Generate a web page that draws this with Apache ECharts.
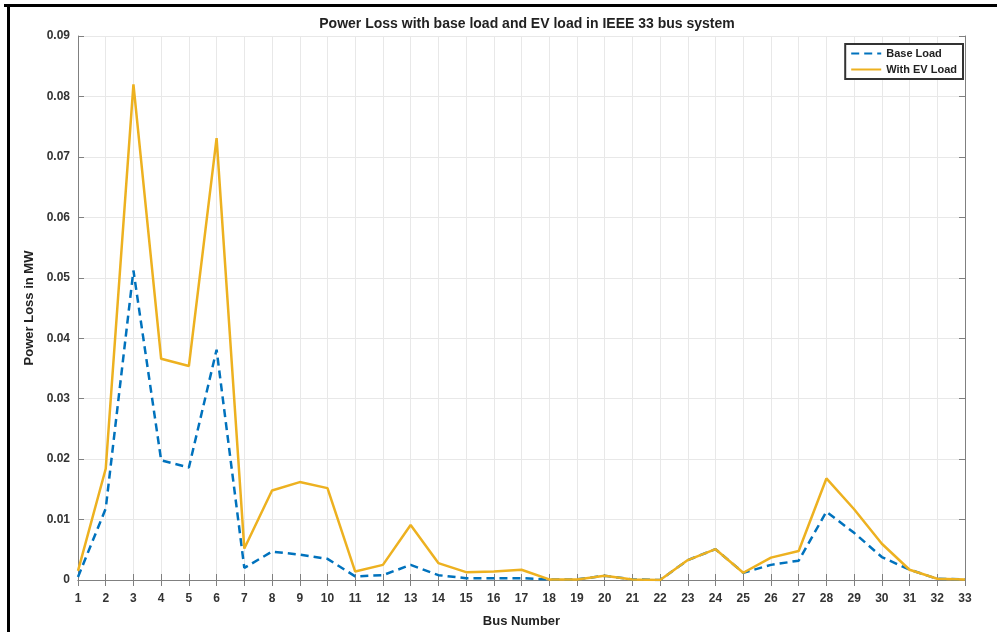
<!DOCTYPE html>
<html>
<head>
<meta charset="utf-8">
<title>Power Loss - IEEE 33 bus</title>
<script src="https://cdn.jsdelivr.net/npm/echarts@6/dist/echarts.min.js"></script>
<style>
  html, body { margin: 0; padding: 0; background: #fff; }
  #chart { width: 997px; height: 632px; }
</style>
</head>
<body>
<div id="chart"></div>
<script>
// bus numbers 1..33
var buses = ['1','2','3','4','5','6','7','8','9','10','11','12','13','14','15','16','17',
  '18','19','20','21','22','23','24','25','26','27','28','29','30','31','32','33'];

// power loss in MW
var baseLoad = [0.0005, 0.0118, 0.0512, 0.0198, 0.0186, 0.0381, 0.0020, 0.0047, 0.0042, 0.0035,
  0.0006, 0.0008, 0.0025, 0.0008, 0.0003, 0.0003, 0.0003, 0.0001, 0.0001, 0.0007,
  0.0001, 0.0000, 0.0033, 0.0051, 0.0012, 0.0025, 0.0032, 0.0113, 0.0078, 0.0038,
  0.0017, 0.0002, 0.0001];
var withEV = [0.0015, 0.0184, 0.0820, 0.0366, 0.0354, 0.0731, 0.0052, 0.0148, 0.0162, 0.0152,
  0.0014, 0.0025, 0.0091, 0.0028, 0.0013, 0.0014, 0.0017, 0.0001, 0.0001, 0.0007,
  0.0001, 0.0000, 0.0033, 0.0051, 0.0012, 0.0037, 0.0048, 0.0168, 0.0117, 0.0060,
  0.0017, 0.0002, 0.0001];

var yTicks = [0, 0.01, 0.02, 0.03, 0.04, 0.05, 0.06, 0.07, 0.08, 0.09];

var chart = echarts.init(document.getElementById('chart'));
var font = 'Liberation Sans, Arial, sans-serif';
var axisGray = '#808080';

var option = {
  backgroundColor: '#fff',
  animation: false,
  title: {
    text: 'Power Loss with base load and EV load in IEEE 33 bus system',
    left: 522,
    textAlign: 'center',
    top: 12,
    textStyle: { fontFamily: font, fontSize: 14, fontWeight: 'bold', color: '#222' }
  },
  legend: {
    orient: 'vertical',
    right: 34,
    top: 44,
    padding: [4, 6, 4, 5],
    itemGap: 5,
    itemWidth: 30,
    itemHeight: 12,
    itemStyle: { opacity: 0 },
    backgroundColor: '#fff',
    borderColor: '#333',
    borderWidth: 2,
    borderRadius: 0,
    textStyle: { fontFamily: font, fontSize: 11, fontWeight: 'bold', color: '#222' },
    data: ['Base Load', 'With EV Load']
  },
  grid: { left: 78, right: 32, top: 36, bottom: 52, outerBoundsMode: 'none', containLabel: false },
  xAxis: [{
    type: 'category',
    boundaryGap: false,
    data: buses,
    name: 'Bus Number',
    nameLocation: 'middle',
    nameGap: 35,
    nameTextStyle: { fontFamily: font, fontSize: 13, fontWeight: 'bold', color: '#222' },
    axisLine: { lineStyle: { color: axisGray, width: 1 } },
    axisTick: { inside: true, length: 6, interval: 0, lineStyle: { color: axisGray } },
    axisLabel: { interval: 0, margin: 13, fontFamily: font, fontSize: 12, fontWeight: 'bold', color: '#333' },
    splitLine: { show: true, interval: 0, lineStyle: { color: '#e8e8e8', width: 1 } }
  }, {
    type: 'category',
    position: 'top',
    boundaryGap: false,
    data: buses,
    axisLine: { lineStyle: { color: axisGray, width: 1 } },
    axisTick: { inside: true, length: 6, interval: 0, lineStyle: { color: axisGray } },
    axisLabel: { show: false },
    splitLine: { show: false }
  }],
  yAxis: [{
    type: 'value',
    min: 0,
    max: 0.09,
    interval: 0.01,
    name: 'Power Loss in MW',
    nameLocation: 'middle',
    nameGap: 40,
    nameTextStyle: { fontFamily: font, fontSize: 13, fontWeight: 'bold', color: '#222' },
    axisLine: { show: true, lineStyle: { color: axisGray, width: 1 } },
    axisTick: { show: true, inside: true, length: 6, lineStyle: { color: axisGray } },
    axisLabel: {
      margin: 8, fontFamily: font, fontSize: 12, fontWeight: 'bold', color: '#333',
      formatter: function (v) {
        var i = yTicks.findIndex(function (t) { return Math.abs(t - v) < 1e-9; });
        if (i < 0) return '';
        return i === 0 ? '0' : yTicks[i].toFixed(2);
      }
    },
    splitLine: { show: true, lineStyle: { color: '#e8e8e8', width: 1 } }
  }, {
    type: 'value',
    position: 'right',
    min: 0,
    max: 0.09,
    interval: 0.01,
    axisLine: { show: true, lineStyle: { color: axisGray, width: 1 } },
    axisTick: { show: true, inside: true, length: 6, lineStyle: { color: axisGray } },
    axisLabel: { show: false },
    splitLine: { show: false }
  }],
  series: [{
    name: 'Base Load',
    type: 'line',
    data: baseLoad,
    symbol: 'none',
    color: '#0072BD',
    lineStyle: { color: '#0072BD', width: 2.5, type: [8, 5] }
  }, {
    name: 'With EV Load',
    type: 'line',
    data: withEV,
    symbol: 'none',
    color: '#EDB120',
    lineStyle: { color: '#EDB120', width: 2.5 }
  }],
  // black frame on the top and left edge of the picture
  graphic: [
    { type: 'rect', shape: { x: 4, y: 4, width: 993, height: 3 }, style: { fill: '#000' }, silent: true },
    { type: 'rect', shape: { x: 7, y: 4, width: 3, height: 628 }, style: { fill: '#000' }, silent: true }
  ]
};

chart.setOption(option);
</script>
</body>
</html>
